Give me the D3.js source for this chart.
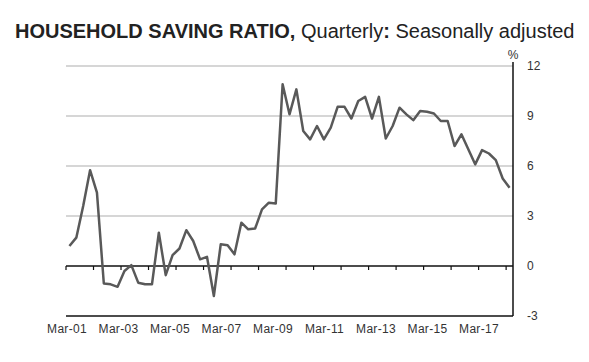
<!DOCTYPE html>
<html>
<head>
<meta charset="utf-8">
<script src="https://cdn.jsdelivr.net/npm/d3@7"></script>
<style>
  body { margin: 0; background: #fff; }
  text { font-family: Arial, "Liberation Sans", sans-serif; }
</style>
</head>
<body>
<div id="chart"></div>
<script>
// household saving ratio, quarterly, Mar-01 .. Mar-17
var saving = [
  1.2, 1.7, 3.6, 5.75, 4.4, -1.05, -1.1, -1.25, -0.3, 0.05,
  -1.0, -1.1, -1.1, 2.0, -0.55, 0.65, 1.05, 2.15, 1.5, 0.4,
  0.55, -1.8, 1.3, 1.25, 0.7, 2.6, 2.2, 2.25, 3.4, 3.8,
  3.75, 10.9, 9.1, 10.6, 8.1, 7.6, 8.4, 7.6, 8.3, 9.55,
  9.55, 8.85, 9.9, 10.15, 8.85, 10.15, 7.65, 8.4, 9.5, 9.1,
  8.75, 9.3, 9.25, 9.15, 8.7, 8.7, 7.2, 7.9, 7.0, 6.1,
  6.95, 6.75, 6.35, 5.25, 4.7
];
var yearLabels = ["Mar-01", "Mar-03", "Mar-05", "Mar-07", "Mar-09", "Mar-11", "Mar-13", "Mar-15", "Mar-17"];
var yTicks = [-3, 0, 3, 6, 9, 12];

var width = 589, height = 362;
var plotLeft = 66, plotRight = 513, plotTop = 66, plotBottom = 316;

var svg = d3.select("#chart").append("svg")
  .attr("width", width)
  .attr("height", height);

// category axis: each quarter gets a band, point in the middle
var x = d3.scaleBand()
  .domain(d3.range(saving.length))
  .range([plotLeft, plotRight])
  .paddingInner(0).paddingOuter(0);

var y = d3.scaleLinear()
  .domain([-3, 12])
  .range([plotBottom, plotTop]);

// label positions (every 2 years)
var xl = d3.scaleLinear()
  .domain([0, yearLabels.length - 1])
  .range([67, 479]);

// title
var title = svg.append("text")
  .attr("x", 15)
  .attr("y", 38)
  .attr("fill", "#222")
  .style("font-size", "20px");
title.append("tspan").attr("font-weight", "bold").text("HOUSEHOLD SAVING RATIO,");
title.append("tspan").text(" Quarterly");
title.append("tspan").attr("font-weight", "bold").text(":");
title.append("tspan").text(" Seasonally adjusted");

// gridlines
svg.append("g")
  .selectAll("line")
  .data(yTicks.filter(function(d) { return d > 0; }))
  .enter().append("line")
  .attr("x1", plotLeft)
  .attr("x2", plotRight)
  .attr("y1", function(d) { return y(d); })
  .attr("y2", function(d) { return y(d); })
  .attr("stroke", "#c8c8c8")
  .attr("stroke-width", 1.5);

// zero line with yearly ticks
svg.append("line")
  .attr("x1", plotLeft).attr("x2", plotRight)
  .attr("y1", y(0)).attr("y2", y(0))
  .attr("stroke", "#111").attr("stroke-width", 1.5);

svg.append("g")
  .selectAll("line")
  .data(d3.range(0, saving.length, 4))
  .enter().append("line")
  .attr("x1", function(d) { return x(d); })
  .attr("x2", function(d) { return x(d); })
  .attr("y1", y(0))
  .attr("y2", y(0) + 4)
  .attr("stroke", "#111").attr("stroke-width", 1.2);

// bottom axis line
svg.append("line")
  .attr("x1", plotLeft).attr("x2", plotRight)
  .attr("y1", plotBottom).attr("y2", plotBottom)
  .attr("stroke", "#111").attr("stroke-width", 1.5);

// right axis
svg.append("line")
  .attr("x1", plotRight).attr("x2", plotRight)
  .attr("y1", plotTop - 4).attr("y2", plotBottom)
  .attr("stroke", "#111").attr("stroke-width", 1.5);

svg.append("g")
  .selectAll("text")
  .data(yTicks)
  .enter().append("text")
  .attr("x", plotRight + 14)
  .attr("y", function(d) { return y(d) + 4; })
  .attr("fill", "#333")
  .style("font-size", "12px")
  .text(function(d) { return d; });

svg.append("text")
  .attr("x", plotRight)
  .attr("y", 59)
  .attr("text-anchor", "middle")
  .attr("fill", "#333")
  .style("font-size", "12px")
  .text("%");

// year labels
svg.append("g")
  .selectAll("text")
  .data(yearLabels)
  .enter().append("text")
  .attr("x", function(d, i) { return xl(i); })
  .attr("y", 333)
  .attr("text-anchor", "middle")
  .attr("fill", "#333")
  .style("font-size", "12px")
  .style("letter-spacing", "0.3px")
  .text(function(d) { return d; });

// the series
var line = d3.line()
  .x(function(d, i) { return x(i) + x.bandwidth() / 2; })
  .y(function(d) { return y(d); });

svg.append("path")
  .datum(saving)
  .attr("fill", "none")
  .attr("stroke", "#595959")
  .attr("stroke-width", 2.5)
  .attr("stroke-linejoin", "round")
  .attr("d", line);
</script>
</body>
</html>
